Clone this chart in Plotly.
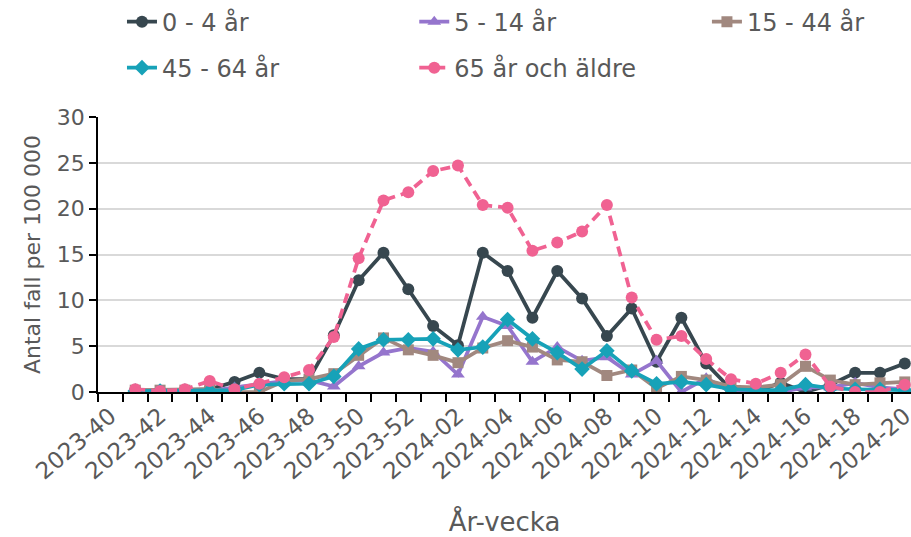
import plotly.graph_objects as go

weeks = ["2023-40", "2023-41", "2023-42", "2023-43", "2023-44", "2023-45", "2023-46",
         "2023-47", "2023-48", "2023-49", "2023-50", "2023-51", "2023-52",
         "2024-01", "2024-02", "2024-03", "2024-04", "2024-05", "2024-06", "2024-07",
         "2024-08", "2024-09", "2024-10", "2024-11", "2024-12", "2024-13", "2024-14",
         "2024-15", "2024-16", "2024-17", "2024-18", "2024-19", "2024-20"]

age_0_4 = [None, 0.2, 0.1, 0.2, 0.3, 1.1, 2.1, 1.4, 1.4, 6.2, 12.2, 15.2, 11.2,
           7.2, 5.1, 15.2, 13.2, 8.1, 13.2, 10.2, 6.1, 9.1, 3.3, 8.1, 3.1,
           0.3, 0.0, 1.0, 0.0, 0.8, 2.1, 2.1, 3.1]
age_5_14 = [None, 0.0, 0.0, 0.0, 0.1, 0.5, 0.9, 1.2, 1.3, 0.6, 2.8, 4.3, 4.8,
            4.4, 1.9, 8.2, 7.2, 3.3, 4.9, 3.4, 3.8, 1.9, 3.4, 0.0, 1.5,
            0.0, 0.1, 0.0, 0.5, 0.5, 1.0, 0.5, 0.3]
age_15_44 = [None, 0.2, 0.2, 0.2, 0.3, 0.0, 0.0, 1.2, 1.4, 2.0, 4.0, 5.9, 4.6,
             4.0, 3.2, 4.8, 5.6, 4.9, 3.5, 3.3, 1.8, 2.4, 0.4, 1.7, 1.3,
             0.6, 0.5, 0.8, 2.8, 1.3, 0.8, 1.0, 1.1]
age_45_64 = [None, 0.1, 0.1, 0.1, 0.1, 0.2, 0.8, 0.9, 0.9, 1.7, 4.7, 5.7, 5.7,
             5.8, 4.6, 4.9, 7.9, 5.8, 4.3, 2.5, 4.5, 2.3, 0.9, 1.1, 0.8,
             0.3, 0.2, 0.2, 0.8, 0.4, 0.3, 0.3, 0.2]
age_65 = [None, 0.3, 0.1, 0.3, 1.2, 0.3, 0.9, 1.6, 2.4, 6.0, 14.6, 20.9, 21.8,
          24.1, 24.7, 20.4, 20.1, 15.4, 16.3, 17.5, 20.4, 10.3, 5.7, 6.1, 3.6,
          1.4, 0.9, 2.1, 4.1, 0.6, 0.0, 0.0, 0.8]

# (name, values, colour, marker, dash, legend id, legend x, legend y)
series = [
    ("0 - 4 år", age_0_4, "#37474F", "circle", "solid", "legend", 0.0295, 1.345),
    ("5 - 14 år", age_5_14, "#9575CD", "triangle-up", "solid", "legend2", 0.389, 1.345),
    ("15 - 44 år", age_15_44, "#A1887F", "square", "solid", "legend3", 0.749, 1.345),
    ("45 - 64 år", age_45_64, "#17A2B8", "diamond", "solid", "legend4", 0.0295, 1.178),
    ("65 år och äldre", age_65, "#F06292", "circle", "10px,6px", "legend5", 0.389, 1.178),
]

idx = list(range(len(weeks)))
FONT = "DejaVu Sans"
GREY = "#595959"

fig = go.Figure()
legends = {}
for name, vals, color, sym, dash, leg, lx, ly in series:
    fig.add_trace(go.Scatter(
        x=idx, y=vals, name=name, mode="lines+markers",
        line=dict(color=color, width=3.75, dash=dash),
        marker=dict(color=color, symbol=sym, size=12 if sym != "square" else 11),
        legend=leg,
    ))
    legends[leg] = dict(orientation="h", x=lx, xanchor="left", y=ly, yanchor="middle",
                        font=dict(size=24, color=GREY), bgcolor="rgba(0,0,0,0)")

fig.update_layout(
    width=911, height=537,
    margin=dict(l=98, r=0, t=117, b=145, autoexpand=False),
    plot_bgcolor="white", paper_bgcolor="white",
    font=dict(family=FONT, size=22, color=GREY),
    showlegend=True,
    **legends,
)

fig.update_xaxes(
    range=[-0.5, 32.25], automargin=False,
    tickmode="array", tickvals=idx[::2], ticktext=weeks[::2],
    tickangle=-40, ticks="", tickfont=dict(size=23, color=GREY),
    ticklabeloverflow="allow",
    showline=True, linecolor="black", linewidth=1.5,
    showgrid=False, zeroline=False,
    minor=dict(tickmode="array", tickvals=[i - 0.5 for i in range(len(weeks) + 1)],
               ticks="outside", ticklen=8, tickcolor="black", tickwidth=1.5, showgrid=False),
    title=dict(text="År-vecka", font=dict(size=26, color=GREY), standoff=34),
)
fig.update_yaxes(
    range=[0, 30], dtick=5, tick0=0, automargin=False,
    ticks="outside", ticklen=7, tickcolor="black", tickwidth=1.5,
    tickfont=dict(size=22, color=GREY),
    showline=True, linecolor="black", linewidth=1.5,
    showgrid=True, gridcolor="#D9D9D9", gridwidth=1.5, zeroline=False,
    title=dict(text="Antal fall per 100 000", font=dict(size=22, color=GREY), standoff=10),
)

fig.write_html("out.html", config={"displayModeBar": False},
               post_script="document.body.style.margin='0';")
